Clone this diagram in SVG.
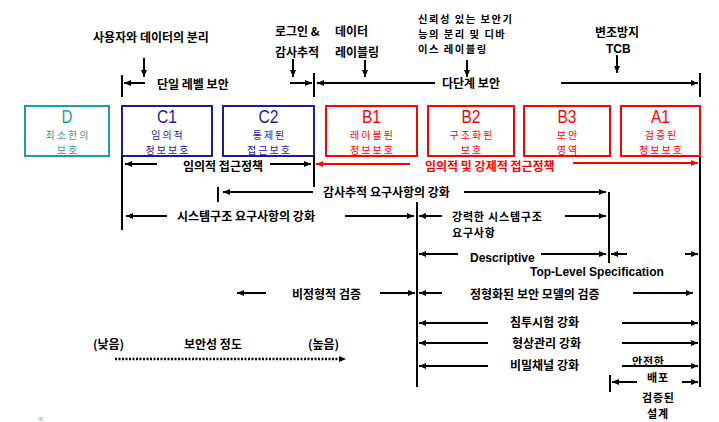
<svg xmlns="http://www.w3.org/2000/svg" width="719" height="422" viewBox="0 0 719 422">
<style>
.lb{font-family:"Noto Sans CJK KR","Liberation Sans",sans-serif;font-weight:bold;font-size:12px;fill:#000}
.sm{font-size:11px;letter-spacing:0.8px}
.xs{font-size:10.3px;letter-spacing:1.5px}
.en{font-family:"Liberation Sans",Arial,sans-serif;font-weight:bold;font-size:12px;fill:#000}
.red{fill:#f00}
.box{fill:#fff;stroke-width:2}
.tt{font-family:"Liberation Sans",Arial,sans-serif;font-size:18px;text-anchor:middle}
.st{font-family:"Noto Sans CJK KR","Liberation Sans",sans-serif;font-size:10px;letter-spacing:2px;text-anchor:middle}
.ln{stroke:#000;stroke-width:2;fill:none}
.ar{stroke:#000;stroke-width:2;fill:none;marker-end:url(#ah)}
.rar{stroke:#f00;stroke-width:2;fill:none;marker-end:url(#rah)}
</style>
<defs>
<marker id="ah" markerUnits="userSpaceOnUse" markerWidth="7" markerHeight="6" refX="7" refY="3" orient="auto"><path d="M0,0 L7,3 L0,6 z" fill="#000"/></marker>
<marker id="rah" markerUnits="userSpaceOnUse" markerWidth="7" markerHeight="6" refX="7" refY="3" orient="auto"><path d="M0,0 L7,3 L0,6 z" fill="#f00"/></marker>
</defs>
<rect width="719" height="422" fill="#fff"/>

<g id="node-D">
<rect class="box" x="25" y="106" width="84" height="50" stroke="#1f9e9e"/>
<text class="tt" x="67" y="123" fill="#1f9e9e" textLength="11" lengthAdjust="spacingAndGlyphs">D</text>
<text class="st" x="68" y="139" fill="#1f9e9e">최소한의</text>
<text class="st" x="68" y="153.6" fill="#1f9e9e">보호</text>
</g>
<g id="node-C1">
<rect class="box" x="122" y="106" width="90" height="50" stroke="#1c1c96"/>
<text class="tt" x="167" y="123" fill="#1c1c96" textLength="20" lengthAdjust="spacingAndGlyphs">C1</text>
<text class="st" x="168" y="139" fill="#1c1c96">임의적</text>
<text class="st" x="168" y="153.6" fill="#1c1c96">정보보호</text>
</g>
<g id="node-C2">
<rect class="box" x="223" y="106" width="91" height="50" stroke="#1c1c96"/>
<text class="tt" x="268.5" y="123" fill="#1c1c96" textLength="20" lengthAdjust="spacingAndGlyphs">C2</text>
<text class="st" x="269.5" y="139" fill="#1c1c96">통제된</text>
<text class="st" x="269.5" y="153.6" fill="#1c1c96">접근보호</text>
</g>
<g id="node-B1">
<rect class="box" x="326" y="106" width="91" height="50" stroke="#f00"/>
<text class="tt" x="371.5" y="123" fill="#f00" textLength="19" lengthAdjust="spacingAndGlyphs">B1</text>
<text class="st" x="372.5" y="139" fill="#f00">레이블된</text>
<text class="st" x="372.5" y="153.6" fill="#f00">정보보호</text>
</g>
<g id="node-B2">
<rect class="box" x="428" y="106" width="86" height="50" stroke="#f00"/>
<text class="tt" x="471" y="123" fill="#f00" textLength="19" lengthAdjust="spacingAndGlyphs">B2</text>
<text class="st" x="472" y="139" fill="#f00">구조화된</text>
<text class="st" x="472" y="153.6" fill="#f00">보호</text>
</g>
<g id="node-B3">
<rect class="box" x="524" y="106" width="86" height="50" stroke="#f00"/>
<text class="tt" x="567" y="123" fill="#f00" textLength="19" lengthAdjust="spacingAndGlyphs">B3</text>
<text class="st" x="568" y="139" fill="#f00">보안</text>
<text class="st" x="568" y="153.6" fill="#f00">영역</text>
</g>
<g id="node-A1">
<rect class="box" x="621" y="106" width="79" height="50" stroke="#f00"/>
<text class="tt" x="660.5" y="123" fill="#f00" textLength="19" lengthAdjust="spacingAndGlyphs">A1</text>
<text class="st" x="661.5" y="139" fill="#f00">검증된</text>
<text class="st" x="661.5" y="153.6" fill="#f00">정보보호</text>
</g>

<g id="connectors">
<path class="ar" d="M144,58 V77"/>
<path class="ar" d="M293,59 V77"/>
<path class="ar" d="M365,60 V77"/>
<path class="ar" d="M467,60 V77"/>
<path class="ar" d="M617,55 V73"/>
<path class="ln" d="M122,75 V97"/>
<path class="ar" d="M145,83 H124"/>
<path class="ar" d="M290,83 H312"/>
<path class="ln" d="M314,73 V97"/>
<path class="ar" d="M435,83 H317"/>
<path class="ar" d="M561,83 H698"/>
<path class="ln" d="M700,73 V97"/>

<path class="ln" d="M122,156 V230"/>
<path class="ar" d="M157,164 H125"/>
<path class="ar" d="M270,164 H311"/>
<path class="ln" d="M314,156 V187"/>
<path class="rar" d="M410,164 H316"/>
<path class="rar" d="M573,163 H698"/>
<path class="ln" d="M700,157 V387"/>

<path class="ln" d="M218,187 V202"/>
<path class="ar" d="M313,192 H223"/>
<path class="ar" d="M464,192 H606"/>
<path class="ln" d="M609,192 V263"/>

<path class="ar" d="M167,216 H126"/>
<path class="ar" d="M345,216 H414"/>
<path class="ln" d="M417,202 V387"/>
<path class="ar" d="M442,216 H419"/>
<path class="ar" d="M565,216 H606"/>

<path class="ar" d="M458,254 H419"/>
<path class="ar" d="M541,254 H606"/>
<path class="ar" d="M627,254 H611"/>
<path class="ar" d="M685,254 H698"/>

<path class="ar" d="M266,293 H237"/>
<path class="ar" d="M380,293 H415"/>
<path class="ar" d="M442,293 H419"/>
<path class="ar" d="M633,293 H693"/>

<path class="ar" d="M488,323 H419"/>
<path class="ar" d="M622,323 H698"/>
<path class="ar" d="M488,343 H419"/>
<path class="ar" d="M622,343 H698"/>
<path class="ar" d="M488,366 H419"/>
<path class="ar" d="M622,366 H698"/>

<path class="ln" d="M610,375 V392"/>
<path class="ar" d="M637,382 H612"/>
<path class="ar" d="M682,382 H698"/>

<path d="M115,359 H340" stroke="#000" stroke-width="2.5" stroke-dasharray="2 1.5" fill="none"/>
<path d="M339,356 L346,359 L339,362 z" fill="#000"/>
</g>

<g id="labels">
<text class="lb" x="93" y="42">사용자와 데이터의 분리</text>
<text class="lb" x="275" y="36">로그인 &amp;</text>
<text class="lb" x="275" y="57">감사추적</text>
<text class="lb" x="335" y="36">데이터</text>
<text class="lb" x="335" y="57">레이블링</text>
<text class="lb xs" x="418" y="23">신뢰성 있는 보안기</text>
<text class="lb xs" x="418" y="38">능의 분리 및 디바</text>
<text class="lb xs" x="418" y="53">이스 레이블링</text>
<text class="lb" x="595" y="37">변조방지</text>
<text class="en" x="606" y="52.5">TCB</text>
<text class="lb" x="157" y="89">단일 레벨 보안</text>
<text class="lb" x="442" y="88">다단계 보안</text>
<text class="lb" x="183" y="171">임의적 접근정책</text>
<text class="lb red" x="425" y="171">임의적 및 강제적 접근정책</text>
<text class="lb" x="323" y="197">감사추적 요구사항의 강화</text>
<text class="lb" x="177" y="221">시스템구조 요구사항의 강화</text>
<text class="lb sm" x="452" y="221">강력한 시스템구조</text>
<text class="lb sm" x="452" y="237">요구사항</text>
<text class="en" x="470" y="262">Descriptive</text>
<text class="en" x="530" y="275.5">Top-Level Specification</text>
<text class="lb" x="292" y="299">비정형적 검증</text>
<text class="lb" x="470" y="299">정형화된 보안 모델의 검증</text>
<text class="lb" x="510" y="327">침투시험 강화</text>
<text class="lb" x="512" y="348">형상관리 강화</text>
<text class="lb" x="510" y="370">비밀채널 강화</text>
<text class="lb sm" x="632" y="366">안전한</text>
<text class="lb sm" x="647" y="382">배포</text>
<text class="lb sm" x="642" y="402">검증된</text>
<text class="lb sm" x="647" y="418">설계</text>
<text class="lb" x="93" y="349">(낮음)</text>
<text class="lb" x="184" y="349">보안성 정도</text>
<text class="lb" x="308" y="349">(높음)</text>
</g>
<rect x="39" y="417" width="4" height="4" fill="#b5dfe3"/>
</svg>
